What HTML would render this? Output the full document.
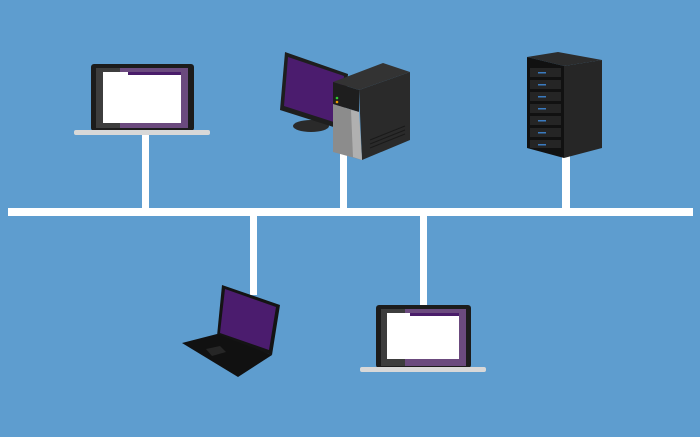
<!DOCTYPE html>
<html><head><meta charset="utf-8"><style>
html,body{margin:0;padding:0;background:#5e9dcf;}
svg{display:block}
</style></head><body>
<svg width="700" height="437" viewBox="0 0 700 437" xmlns="http://www.w3.org/2000/svg">
<rect width="700" height="437" fill="#5e9dcf"/>
<!-- lines -->
<g fill="#ffffff">
<rect x="8" y="208" width="685" height="8"/>
<rect x="142" y="133" width="7" height="76"/>
<rect x="340" y="150" width="7" height="59"/>
<rect x="562" y="150" width="8" height="59"/>
<rect x="250" y="215" width="7" height="80"/>
<rect x="420" y="215" width="7" height="92"/>
</g>
<!-- laptop 1 -->
<rect x="91" y="64" width="103" height="67" rx="3" fill="#1c1c1c"/>
<rect x="96" y="68" width="92" height="60" fill="#3d3d3d"/>
<polygon points="120,68 188,68 188,128 120,128" fill="#6b4a7e"/>
<rect x="103" y="72" width="78" height="51" fill="#ffffff"/>
<rect x="128" y="72" width="53" height="3" fill="#4a1d6a"/>
<rect x="74" y="130" width="136" height="5" rx="2" fill="#d8d8d8"/>
<!-- monitor -->
<ellipse cx="311" cy="126" rx="18" ry="6" fill="#2a2a2a"/>
<polygon points="285,52 348,74 343,130 280,110" fill="#1e1e1e"/>
<polygon points="288,57 344,76 340,124 284,106" fill="#4b1c6e"/>
<!-- tower -->
<polygon points="333,82 383,63 410,72 359,90" fill="#333333"/>
<polygon points="359,90 410,72 410,140 362,160" fill="#2a2a2a"/>
<polygon points="333,82 359,90 359,112 333,104" fill="#1e1e1e"/>
<polygon points="333,104 359,112 362,160 333,152" fill="#8c8c8c"/>
<polygon points="351,110 359,112 362,160 353,157" fill="#b0b0b0"/>
<circle cx="337" cy="98" r="1.3" fill="#3c3"/>
<circle cx="337" cy="102" r="1.3" fill="#e90"/>
<g stroke="#1a1a1a" stroke-width="1"><line x1="370" y1="140" x2="405" y2="126"/><line x1="370" y1="144" x2="405" y2="130"/><line x1="370" y1="148" x2="405" y2="134"/></g>
<!-- server -->
<polygon points="527,57 558,52 602,60 564,66" fill="#2c2c2c"/>
<polygon points="564,66 602,60 602,148 564,158" fill="#262626"/>
<polygon points="527,57 564,66 564,158 527,148" fill="#111111"/>
<g fill="#252525">
<rect x="530" y="68" width="31" height="9"/><rect x="530" y="80" width="31" height="9"/><rect x="530" y="92" width="31" height="9"/><rect x="530" y="104" width="31" height="9"/><rect x="530" y="116" width="31" height="9"/><rect x="530" y="128" width="31" height="9"/><rect x="530" y="140" width="31" height="8"/>
</g>
<g fill="#3a7abf"><rect x="538" y="72" width="8" height="1.5"/><rect x="538" y="84" width="8" height="1.5"/><rect x="538" y="96" width="8" height="1.5"/><rect x="538" y="108" width="8" height="1.5"/><rect x="538" y="120" width="8" height="1.5"/><rect x="538" y="132" width="8" height="1.5"/><rect x="538" y="144" width="8" height="1.5"/></g>
<!-- laptop 3 (angled) -->
<polygon points="222,285 280,305 272,355 217,336" fill="#141414"/>
<polygon points="225,289 276,307 269,350 220,333" fill="#4b1c6e"/>
<polygon points="182,343 217,334 272,355 238,377" fill="#111111"/>
<polygon points="206,349 220,346 226,352 212,356" fill="#262626"/>
<!-- laptop 2 -->
<rect x="376" y="305" width="95" height="63" rx="3" fill="#1c1c1c"/>
<rect x="381" y="309" width="85" height="57" fill="#3d3d3d"/>
<polygon points="405,309 466,309 466,366 405,366" fill="#6b4a7e"/>
<rect x="387" y="313" width="72" height="46" fill="#ffffff"/>
<rect x="410" y="313" width="49" height="3" fill="#4a1d6a"/>
<rect x="360" y="367" width="126" height="5" rx="2" fill="#d8d8d8"/>
</svg>
</body></html>
